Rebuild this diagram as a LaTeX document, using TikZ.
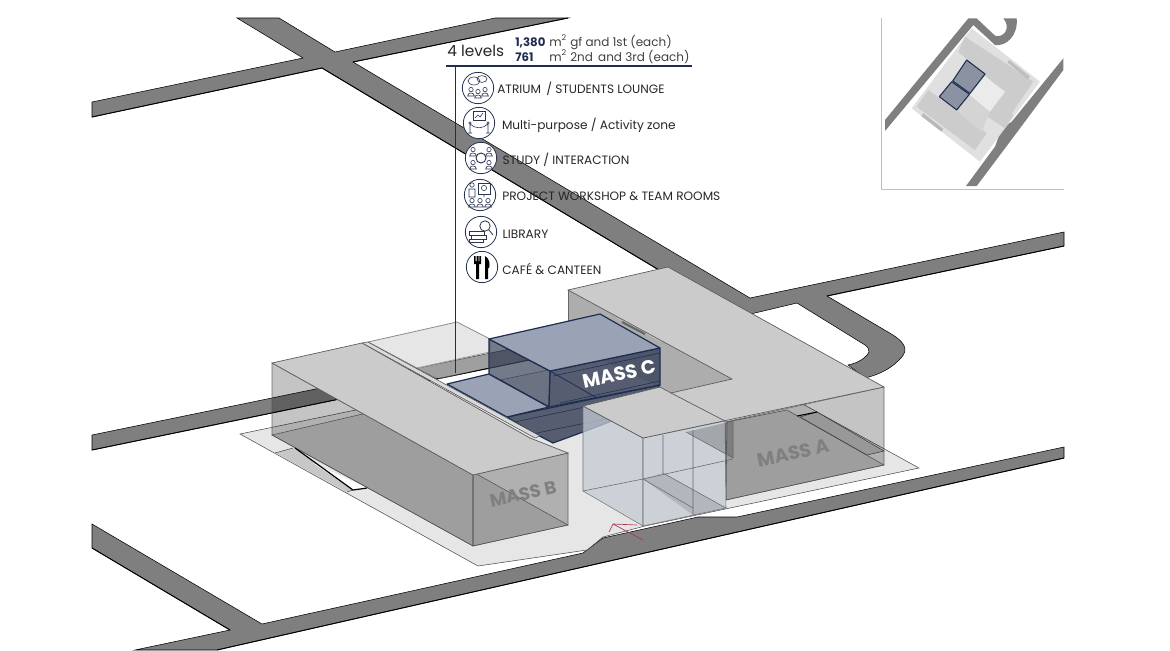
\documentclass[tikz,border=0pt]{standalone}
\usepackage{fontspec}
\setmainfont{Poppins}
\usetikzlibrary{positioning}
\definecolor{roadgrey}{HTML}{7F7F7F}
\definecolor{plategrey}{HTML}{E6E6E6}
\definecolor{roofgrey}{HTML}{CBCBCB}
\definecolor{navyline}{HTML}{1F2D50}
\definecolor{bluetop}{HTML}{9AA3B5}
\definecolor{bluewall}{HTML}{3D465C}
\definecolor{iconline}{HTML}{2A3550}
\definecolor{arrowred}{HTML}{A8385C}
\definecolor{footblue}{HTML}{C4CAD4}
\tikzset{
  road/.style={fill=roadgrey,draw=black,line width=0.4pt},
  roadedge/.style={draw=black,line width=0.7pt},
  plate/.style={fill=plategrey,draw=black!70,line width=0.4pt},
  roof/.style={fill=roofgrey,draw=black!65,line width=0.5pt},
  wall/.style={fill=black,fill opacity=0.23,draw=black!70,draw opacity=0.8,line width=0.4pt},
  floorshade/.style={fill=black,fill opacity=0.1,draw=black!60,line width=0.4pt},
  footwall/.style={fill=footblue,fill opacity=0.75,draw=black!55,line width=0.4pt},
  bluebox/.style={draw=navyline,line width=0.9pt,line join=round},
  iconring/.style={draw=iconline,fill=white,circle,line width=0.6pt,minimum size=23.5pt,inner sep=0pt},
  usetext/.style={inner sep=0pt,font=\fontsize{9.1}{11}\selectfont,text=black!85,text height=6.4pt,text depth=0pt},
  areatext/.style={inner sep=0pt,font=\fontsize{9}{11}\selectfont,text=black!75,anchor=base west},
  areanum/.style={inner sep=0pt,font=\fontsize{8.8}{11}\selectfont\bfseries,text=navyline,anchor=base west},
  masslabel/.style={inner sep=0pt,rotate=12},
  icondraw/.style={draw=iconline,line width=0.45pt}
}
\newcommand{\iconperson}[2]{%
  \draw[icondraw] (#1,#2-2.4) circle[radius=2.2];
  \draw[icondraw] (#1-3.4,#2+4) .. controls (#1-3.4,#2) and (#1+3.4,#2) .. (#1+3.4,#2+4) -- cycle;
}
\begin{document}
\begin{tikzpicture}[x=0.75pt,y=-0.75pt,line cap=butt]
  \useasboundingbox (0,0) rectangle (1170,650);

  \draw[road] (237,18) -- (279,18) -- (335,52) -- (495,18) -- (568,18) -- (353,62) -- (750,298)
    -- (1064,232) -- (1064,246) -- (827,296) -- (893,335) .. controls (908,345) and (908,352) .. (898,361)
    .. controls (890,369) and (878,375) .. (865,378) -- (848,365) .. controls (858,363) and (866,358) .. (869,352)
    .. controls (869,349) and (868,347) .. (865,345) -- (797,303) -- (738,317) -- (92,450) -- (92,435)
    -- (719,306) -- (322,68) -- (92,117) -- (92,102) -- (303,58) -- cycle;
  \draw[road] (92,524) -- (262,624) -- (380,598) -- (583,553) -- (603,538) -- (698,517) -- (737,517)
    -- (1064,447) -- (1064,458) -- (217,650) -- (135,650) -- (230,630) -- (92,548) -- cycle;
  \draw[roadedge] (92,117) -- (322,68) (353,62) -- (568,18) (92,450) -- (738,317) (827,296) -- (1064,246)
    (322,68) -- (719,306) (92,548) -- (230,630) (217,650) -- (1064,458);

  \draw[plate] (240,434) -- (688,341) -- (919,468) -- (645,526) -- (603,537) -- (587,550) -- (478,566) -- cycle;
  \fill[black!22] (275,453) -- (293,448) -- (353,490) -- (347,492) -- cycle;
  \draw[black!70,line width=0.4pt] (275,453) -- (293,448) (347,492) -- (353,490);
  \fill[white] (313,463) -- (353,490) -- (367,488) -- cycle;
  \draw[black!70,line width=0.4pt,fill=black!22] (800,417) -- (867,455) -- (884,451) -- (817,412) -- cycle;
  \draw[black,line width=0.8pt] (797,416) -- (817,412);

  \draw[fill=plategrey,draw=black!45,line width=0.6pt] (368,342) -- (457,322) -- (490,339) -- (490,352) -- (417,368) -- cycle;
  \fill[white,fill opacity=0.25] (417,368) -- (490,352) -- (490,367) -- (440,379) -- cycle;

  \fill[black!32] (568,290) -- (732,379) -- (671,393) -- (660,387) -- (568,345) -- cycle;
  \draw[black!60,line width=0.4pt] (568,290) -- (568,345);
  \draw[black!20,line width=1.6pt] (618,317) -- (662,341);
  \draw[black!60,line width=1.6pt] (622,322) -- (645,334);

  \draw[bluebox,fill=bluewall,fill opacity=0.85] (507,417) -- (597,398) -- (660,385) -- (640,410) -- (583,432) -- (553,443) -- (530,431) -- cycle;
  \draw[navyline,line width=0.4pt] (510,423) -- (660,391) (532,434) -- (620,416);
  \draw[bluebox,fill=bluetop] (447,384) -- (489,374) -- (549,407) -- (507,417) -- cycle;
  \draw[bluebox,fill=bluewall,fill opacity=0.72] (489,339) -- (550,371) -- (549,407) -- (489,374) -- cycle;
  \draw[bluebox,fill=bluewall,fill opacity=0.85] (550,371) -- (660,348) -- (660,385) -- (549,407) -- cycle;
  \draw[navyline,line width=0.6pt] (550,371) -- (597,398);
  \draw[bluebox,fill=bluetop] (489,339) -- (600,314) -- (660,348) -- (550,371) -- cycle;
  \draw[navyline,line width=0.4pt] (553,376) -- (660,353) (560,403) -- (660,381);
  \node[masslabel,text=white,font=\fontsize{14.4}{16}\selectfont\bfseries] (massC) at (619,374) {MASS C};

  \draw[floorshade] (272,435) -- (367,413) -- (568,525) -- (473,546) -- cycle;
  \draw[wall] (272,363) -- (473,475) -- (473,546) -- (272,435) -- cycle;
  \draw[wall] (473,475) -- (568,453) -- (568,525) -- (473,546) -- cycle;
  \draw[black,line width=0.9pt] (295,448) -- (353,490) -- (367,488);
  \draw[fill=black!15,draw=black!70,line width=0.4pt] (362,343) -- (535,438) -- (540,436) -- (368,342) -- cycle;
  \draw[roof] (272,363) -- (362,343) -- (530,438) -- (568,453) -- (473,475) -- cycle;
  \node[masslabel,text=black!50,font=\fontsize{13.5}{15}\selectfont\bfseries] (massB) at (523,494) {MASS B};

  \draw[floorshade] (727,422) -- (787,410) -- (884,465) -- (726,500) -- cycle;
  \draw[wall] (725,422) -- (884,387) -- (884,465) -- (726,500) -- cycle;
  \node[masslabel,text=black!50,font=\fontsize{14.3}{16}\selectfont\bfseries] (massA) at (793,453) {MASS A};

  \draw[footwall] (583,406) -- (643,438) -- (643,526) -- (583,491) -- cycle;
  \draw[footwall] (643,438) -- (725,421) -- (726,508) -- (643,526) -- cycle;
  \fill[black,fill opacity=0.2] (686,432) -- (733,421) -- (733,458) -- cycle;
  \fill[black,fill opacity=0.12] (643,479) -- (663,473) -- (726,508) -- (693,515) -- cycle;
  \draw[black!60,line width=0.4pt] (663,435) -- (663,473) (693,430) -- (693,515) (583,491) -- (643,479) -- (733,459)
    (643,479) -- (693,508) (663,473) -- (726,508) (686,432) -- (733,458) (733,421) -- (733,458);

  \draw[roof] (568,290) -- (668,267) -- (884,387) -- (643,438) -- (583,406) -- (660,387) -- (671,393) -- (732,379) -- cycle;
  \draw[black!65,line width=0.5pt] (671,393) -- (725,421);

  \draw[arrowred,line width=0.5pt] (637,525) -- (613,524) -- (609,532) (613,524) -- (643,540);

  \draw[navyline,line width=0.9pt] (446,66) -- (692,66);
  \draw[navyline,line width=0.6pt] (455.5,66) -- (455.5,373);
  \node[inner sep=0pt,anchor=base west,font=\fontsize{11.5}{14}\selectfont,text=black!85] (levels) at (447,56) {4 levels};
  \node[areanum] (areaOne) at (515,46) {1,380};
  \node[areatext] (unitOne) at (549,46) {m\textsuperscript{2}};
  \node[areatext] (useOne) at (570,46) {gf and 1st (each)};
  \node[areanum] (areaTwo) at (515,61) {761};
  \node[areatext] (unitTwo) at (549,61) {m\textsuperscript{2}};
  \node[areatext] (useTwo) at (570,61) {2nd\, and 3rd (each)};

  \node[iconring] (iconA) at (478,88) {};
  \node[iconring] (iconB) at (479,123) {};
  \node[iconring] (iconC) at (481,158) {};
  \node[iconring] (iconD) at (480,195) {};
  \node[iconring] (iconE) at (481,232) {};
  \node[iconring] (iconF) at (482,267) {};
  \node[usetext,right=2.2pt of iconA,yshift=-0.8pt] (useA) {ATRIUM\, / STUDENTS LOUNGE};
  \node[usetext,right=5pt of iconB,yshift=-1.5pt] (useB) {Multi-purpose / Activity zone};
  \node[usetext,right=4pt of iconC,yshift=-2pt] (useC) {STUDY / INTERACTION};
  \node[usetext,right=4.5pt of iconD,yshift=-0.8pt] (useD) {PROJECT WORKSHOP \& TEAM ROOMS};
  \node[usetext,right=4pt of iconE,yshift=-1.5pt] (useE) {LIBRARY};
  \node[usetext,right=3pt of iconF,yshift=-2.2pt] (useF) {CAFÉ \& CANTEEN};

  \begin{scope}[shift={(iconA.center)}]
    \draw[icondraw] (-4,-7) ellipse[x radius=6,y radius=4];
    \draw[icondraw] (4,-9) ellipse[x radius=5,y radius=3.4];
    \iconperson{-7}{4} \iconperson{7}{4} \iconperson{0}{6}
  \end{scope}
  \begin{scope}[shift={(iconB.center)}]
    \draw[icondraw] (-6,-12) rectangle (6,-3);
    \draw[icondraw] (-4,-5) -- (-1,-8) -- (1,-6) -- (4,-10);
    \draw[icondraw] (-9,1) -- (-9,10) (9,1) -- (9,10) (-9,1) .. controls (-4,6) and (4,6) .. (9,1);
    \draw[icondraw] (-9,0) circle[radius=1.3] (9,0) circle[radius=1.3] (-11,10) -- (-7,10) (7,10) -- (11,10);
  \end{scope}
  \begin{scope}[shift={(iconC.center)}]
    \draw[icondraw,line width=0.7pt] (0,0) circle[radius=5];
    \iconperson{-8}{-6} \iconperson{8}{-6} \iconperson{-8}{7} \iconperson{8}{7}
  \end{scope}
  \begin{scope}[shift={(iconD.center)}]
    \draw[icondraw] (-2,-12) rectangle (10,-1);
    \draw[icondraw] (4,-7) circle[radius=2.6] (4,-1) -- (4,2);
    \draw[icondraw] (-8,-10) circle[radius=2.2] (-11,-6) rectangle (-5,2);
    \iconperson{-8}{8} \iconperson{0}{8} \iconperson{8}{8}
  \end{scope}
  \begin{scope}[shift={(iconE.center)}]
    \draw[icondraw] (-12,-1) rectangle (3,3) (-10,3) rectangle (5,7) (-12,7) rectangle (2,10);
    \draw[icondraw,line width=0.6pt] (4,-6) circle[radius=5.2] (8,-2) -- (12,3);
  \end{scope}
  \begin{scope}[shift={(iconF.center)}]
    \fill[black] (-8,-11) rectangle (-1,-3) (-6,-3) rectangle (-3,12);
    \fill[black] (3,12) -- (3,-11) .. controls (8,-9) and (8,-1) .. (7,1) -- (6,1) -- (6,12) -- cycle;
    \fill[white] (-6.3,-11) rectangle (-5.5,-6) (-3.5,-11) rectangle (-2.7,-6);
  \end{scope}

  \draw[black!25,line width=0.6pt] (881,18) -- (881,189) -- (1064,189);
  \begin{scope}[shift={(870,5)},x=0.25pt,y=-0.25pt]
    \draw[road,draw=none] (45,345) -- (295,40) -- (320,40) -- (375,92) .. controls (400,100) and (425,70) .. (400,40)
      -- (440,40) .. controls (445,90) and (410,125) .. (375,120) -- (310,60) -- (45,378) -- cycle;
    \draw[road,draw=none] (580,160) -- (425,350) -- (395,370) -- (375,425) -- (288,543) -- (320,543) -- (420,410) -- (580,195) -- cycle;
    \fill[black!12] (305,70) -- (510,230) -- (330,470) -- (125,310) -- cycle;
    \fill[black!20] (285,95) -- (490,230) -- (425,325) -- (430,330) -- (405,370) -- (345,330) -- (400,260) -- (265,140) -- cycle;
    \fill[black!25] (418,165) -- (480,215) -- (472,222) -- (412,172) -- cycle;
    \fill[black!20] (175,255) -- (350,385) -- (315,435) -- (140,305) -- cycle;
    \fill[black!28] (160,325) -- (220,372) -- (214,380) -- (154,333) -- cycle;
    \fill[black!17] (240,300) -- (300,270) -- (360,320) -- (335,380) -- cycle;
    \fill[black!8] (300,270) -- (345,215) -- (405,260) -- (360,320) -- cycle;
    \draw[bluebox,fill=bluetop!90!black,line width=0.8pt] (290,165) -- (345,207) -- (300,265) -- (248,228) -- cycle;
    \draw[bluebox,fill=bluetop!90!black,line width=0.8pt] (245,230) -- (298,268) -- (260,315) -- (208,275) -- cycle;
  \end{scope}
\end{tikzpicture}
\end{document}
